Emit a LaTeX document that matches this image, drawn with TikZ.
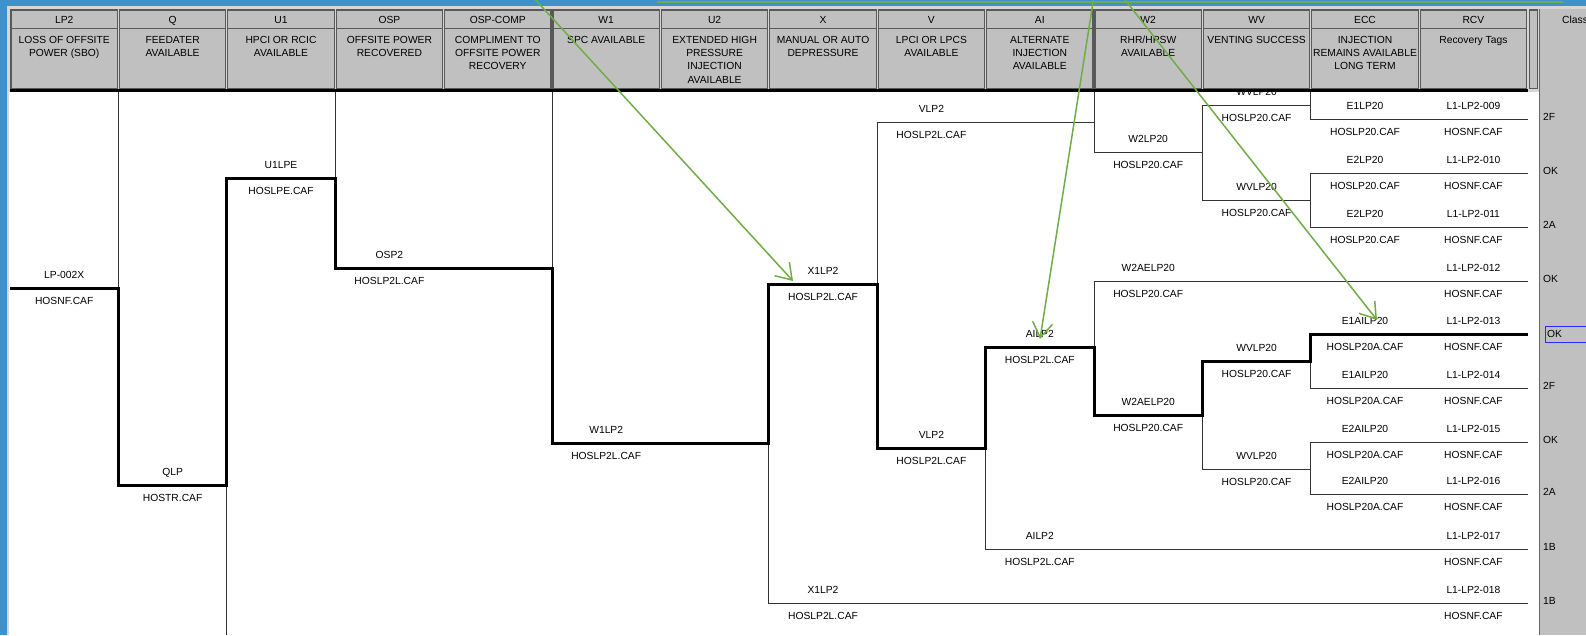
\documentclass[tikz,border=0pt]{standalone}
\usepackage{fontspec}
\setmainfont{Liberation Sans}
\usepackage{xcolor}
\usepackage{tikz}
\usetikzlibrary{arrows.meta}
\definecolor{winblue}{RGB}{62,146,204}
\definecolor{panelgray}{RGB}{192,192,192}
\definecolor{framegray}{RGB}{214,214,214}
\definecolor{notegreen}{RGB}{112,173,71}
\definecolor{selblue}{RGB}{40,40,255}

\begin{document}
\begin{tikzpicture}[x=1pt,y=-1pt,
  lbl/.style={font=\fontsize{10.3}{13.3}\selectfont, inner sep=0pt, anchor=base},
  hdr/.style={fill=panelgray, draw=black!65, line width=1.1pt},
  thinbr/.style={draw=black!80, line width=0.9pt},
  thickbr/.style={draw=black, line width=3pt},
  note/.style={draw=notegreen, line width=1.5pt, -{Straight Barb[length=15pt,width=20pt]}}]
\useasboundingbox (0,0) rectangle (1586,635);
\clip (0,0) rectangle (1586,635);
% window frame
\fill[winblue] (0,0) rectangle (1586,635);
\fill[framegray] (7,6) rectangle (1586,635);
\fill[white] (9,92) rectangle (1539,635);
% tree, thin branches first
\draw[thinbr] (118.4,92) -- (118.4,288);
\draw[thinbr] (226.8,485) -- (226.8,635);
\draw[thinbr] (335.2,92) -- (335.2,178);
\draw[thinbr] (552,92) -- (552,268);
\draw[thinbr] (768.8,443) -- (768.8,603) -- (1527.6,603);
\draw[thinbr] (877.2,284) -- (877.2,122) -- (1094,122);
\draw[thinbr] (1094,92) -- (1094,152) -- (1202.4,152);
\draw[thinbr] (1310.8,105) -- (1202.4,105) -- (1202.4,200) -- (1310.8,200);
\draw[thinbr] (1310.8,92) -- (1310.8,119) -- (1527.6,119);
\draw[thinbr] (1527.6,173) -- (1310.8,173) -- (1310.8,227) -- (1527.6,227);
\draw[thinbr] (985.6,448) -- (985.6,549) -- (1527.6,549);
\draw[thinbr] (1094,347) -- (1094,281) -- (1527.6,281);
\draw[thinbr] (1310.8,361) -- (1310.8,388) -- (1527.6,388);
\draw[thinbr] (1202.4,415) -- (1202.4,469) -- (1310.8,469);
\draw[thinbr] (1527.6,442) -- (1310.8,442) -- (1310.8,494) -- (1527.6,494);
% the highlighted sequence
\draw[thickbr] (10,288) -- (118.4,288) -- (118.4,485) -- (226.8,485) -- (226.8,178)
  -- (335.2,178) -- (335.2,268) -- (552,268) -- (552,443) -- (768.8,443) -- (768.8,284)
  -- (877.2,284) -- (877.2,448) -- (985.6,448) -- (985.6,347) -- (1094,347) -- (1094,415)
  -- (1202.4,415) -- (1202.4,361) -- (1310.8,361) -- (1310.8,334) -- (1527.6,334);
% branch labels: top event split, above and below the line
\foreach \cx/\ly/\evA/\evB/\nm in {
  64.2/288/LP-002X/HOSNF.CAF/lp, 172.6/485/QLP/HOSTR.CAF/q,
  281/178/U1LPE/HOSLPE.CAF/uone, 389.4/268/OSP2/HOSLP2L.CAF/osp,
  606.2/443/W1LP2/HOSLP2L.CAF/wone,
  823/284/X1LP2/HOSLP2L.CAF/xa, 823/603/X1LP2/HOSLP2L.CAF/xb,
  931.4/122/VLP2/HOSLP2L.CAF/va, 931.4/448/VLP2/HOSLP2L.CAF/vb,
  1039.8/347/AILP2/HOSLP2L.CAF/aia, 1039.8/549/AILP2/HOSLP2L.CAF/aib,
  1148.2/152/W2LP20/HOSLP20.CAF/wtwoa, 1148.2/281/W2AELP20/HOSLP20.CAF/wtwob,
  1148.2/415/W2AELP20/HOSLP20.CAF/wtwoc,
  1256.6/105/WVLP20/HOSLP20.CAF/wva, 1256.6/200/WVLP20/HOSLP20.CAF/wvb,
  1256.6/361/WVLP20/HOSLP20.CAF/wvc, 1256.6/469/WVLP20/HOSLP20.CAF/wvd,
  1365/119/E1LP20/HOSLP20.CAF/ecca, 1365/173/E2LP20/HOSLP20.CAF/eccb,
  1365/227/E2LP20/HOSLP20.CAF/eccc, 1365/334/E1AILP20/HOSLP20A.CAF/eccd,
  1365/388/E1AILP20/HOSLP20A.CAF/ecce, 1365/442/E2AILP20/HOSLP20A.CAF/eccf,
  1365/494/E2AILP20/HOSLP20A.CAF/eccg,
  1473.4/119/L1-LP2-009/HOSNF.CAF/rcva, 1473.4/173/L1-LP2-010/HOSNF.CAF/rcvb,
  1473.4/227/L1-LP2-011/HOSNF.CAF/rcvc, 1473.4/281/L1-LP2-012/HOSNF.CAF/rcvd,
  1473.4/334/L1-LP2-013/HOSNF.CAF/rcve, 1473.4/388/L1-LP2-014/HOSNF.CAF/rcvf,
  1473.4/442/L1-LP2-015/HOSNF.CAF/rcvg, 1473.4/494/L1-LP2-016/HOSNF.CAF/rcvh,
  1473.4/549/L1-LP2-017/HOSNF.CAF/rcvi, 1473.4/603/L1-LP2-018/HOSNF.CAF/rcvj} {
  \node[lbl] (\nm-up) at (\cx,\ly-10) {\evA};
  \node[lbl] (\nm-dn) at (\cx,\ly+16.7) {\evB};
}
% column headers
\foreach \k/\code/\desc in {
  0/LP2/{LOSS OF OFFSITE\\POWER (SBO)}, 1/Q/{FEEDATER\\AVAILABLE},
  2/U1/{HPCI OR RCIC\\AVAILABLE}, 3/OSP/{OFFSITE POWER\\RECOVERED},
  4/OSP-COMP/{COMPLIMENT TO\\OFFSITE POWER\\RECOVERY}, 5/W1/{SPC AVAILABLE},
  6/U2/{EXTENDED HIGH\\PRESSURE\\INJECTION\\AVAILABLE}, 7/X/{MANUAL OR AUTO\\DEPRESSURE},
  8/V/{LPCI OR LPCS\\AVAILABLE}, 9/AI/{ALTERNATE\\INJECTION\\AVAILABLE},
  10/W2/{RHR/HPSW\\AVAILABLE}, 11/WV/{VENTING SUCCESS},
  12/ECC/{INJECTION\\REMAINS AVAILABLE\\LONG TERM}, 13/RCV/{Recovery Tags}} {
  \pgfmathsetmacro\xa{10+108.4*\k}
  \draw[hdr] (\xa+1,10) rectangle (\xa+107.4,28.5);
  \draw[hdr] (\xa+1,28.5) rectangle (\xa+107.4,88.5);
  \node[lbl] (code-\k) at (\xa+54.2,23) {\code};
  \node[lbl, align=center, anchor=north] (desc-\k) at (\xa+54.2,36) {\desc};
}
\draw[hdr] (1529.5,10) rectangle (1537.5,88.5);
\draw[line width=3pt] (10,90.5) -- (1528,90.5);
% class column
\fill[panelgray] (1540,9) rectangle (1586,635);
\draw[black!60, line width=1.2pt] (1539.5,9) -- (1539.5,635);
\node[lbl, anchor=base west] (cls-head) at (1562,23) {Class};
\foreach \ly/\cls/\nm in {119/2F/a, 173/OK/b, 227/2A/c, 281/OK/d, 388/2F/f,
  442/OK/g, 494/2A/h, 549/1B/i, 603/1B/j} {
  \node[lbl, anchor=base west] (cls-\nm) at (1543,\ly+1) {\cls};
}
\node[lbl, anchor=base west] (cls-e) at (1547,337) {OK};
\draw[selblue, line width=1pt] (1545,326) rectangle (1590,342);
% annotation arrows
\coordinate (notea-from) at (532,-4);
\coordinate (notea-to) at (793,281);
\coordinate (noteb-from) at (1094,-4);
\coordinate (noteb-to) at (1040,339);
\coordinate (notec-from) at (1122,-4);
\coordinate (notec-to) at (1377,320);
\draw[note] (notea-from) -- (notea-to);
\draw[note] (noteb-from) -- (noteb-to);
\draw[note] (notec-from) -- (notec-to);
\draw[notegreen, line width=2pt] (657,1.5) -- (1563,1.5);
\end{tikzpicture}
\end{document}
